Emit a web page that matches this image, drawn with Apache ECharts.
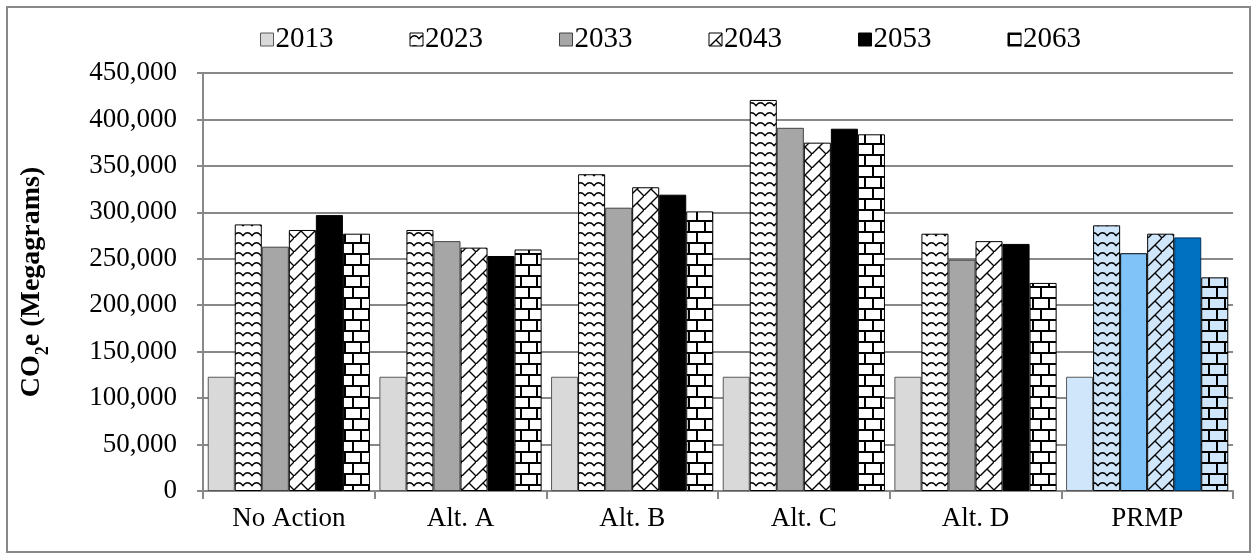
<!DOCTYPE html>
<html>
<head>
<meta charset="utf-8">
<script src="https://cdn.jsdelivr.net/npm/echarts@6/dist/echarts.min.js"></script>
<style>
html,body{margin:0;padding:0;background:#fff;}
#chart{width:1255px;height:555px;}
</style>
</head>
<body>
<div id="chart"></div>
<script>
const categories = ['No Action', 'Alt. A', 'Alt. B', 'Alt. C', 'Alt. D', 'PRMP'];
const seriesNames = ['2013', '2023', '2033', '2043', '2053', '2063'];
const v2013 = [123000, 123000, 123000, 123000, 123000, 123000];
const v2023 = [287000, 281000, 341000, 421000, 277000, 286000];
const v2033 = [263000, 269000, 305000, 391000, 249000, 256000];
const v2043 = [281000, 262000, 327000, 375000, 269000, 277000];
const v2053 = [297000, 253000, 319000, 390000, 266000, 273000];
const v2063 = [277000, 260000, 301000, 384000, 224000, 230000];
const yTicks = [0, 50000, 100000, 150000, 200000, 250000, 300000, 350000, 400000, 450000];

function pattern(bg, w, h, draw) {
  const c = document.createElement('canvas');
  c.width = w; c.height = h;
  const ctx = c.getContext('2d');
  ctx.fillStyle = bg; ctx.fillRect(0, 0, w, h);
  ctx.strokeStyle = '#000';
  draw(ctx, w, h);
  return { image: c, repeat: 'repeat' };
}
function zigzag(bg) {
  return pattern(bg, 9, 10, (ctx) => {
    ctx.lineWidth = 1.5;
    ctx.beginPath();
    ctx.moveTo(-1, 7);
    ctx.quadraticCurveTo(4.5, -1.5, 10, 7);
    ctx.stroke();
  });
}
function diagBrick(bg) {
  return pattern(bg, 14, 14, (ctx) => {
    ctx.lineWidth = 1.4;
    ctx.beginPath();
    ctx.moveTo(-1, 15); ctx.lineTo(15, -1);
    ctx.moveTo(7, 7); ctx.lineTo(15, 15);
    ctx.stroke();
  });
}
function hBrick(bg) {
  return pattern(bg, 16, 22, (ctx) => {
    ctx.lineWidth = 2;
    ctx.beginPath();
    ctx.moveTo(0, 1); ctx.lineTo(16, 1);
    ctx.moveTo(0, 12); ctx.lineTo(16, 12);
    ctx.moveTo(1, 1); ctx.lineTo(1, 12);
    ctx.moveTo(9, 12); ctx.lineTo(9, 22);
    ctx.stroke();
  });
}

const lightBlue = '#cfe6fb';
const styles = [
  { color: '#d9d9d9', borderColor: '#595959', prmp: { color: lightBlue, borderColor: '#595959' } },
  { color: zigzag('#ffffff'), borderColor: '#000', prmp: { color: zigzag(lightBlue), borderColor: '#000' } },
  { color: '#a6a6a6', borderColor: '#404040', prmp: { color: '#7fc3f9', borderColor: '#000' } },
  { color: diagBrick('#ffffff'), borderColor: '#000', prmp: { color: diagBrick(lightBlue), borderColor: '#000' } },
  { color: '#000000', borderColor: '#000', prmp: { color: '#0070c0', borderColor: '#00305a' } },
  { color: hBrick('#ffffff'), borderColor: '#000', prmp: { color: hBrick(lightBlue), borderColor: '#000' } }
];
const values = [v2013, v2023, v2033, v2043, v2053, v2063];

const FONT = 'Liberation Serif';
const series = seriesNames.map((name, i) => ({
  name: name,
  type: 'bar',
  barGap: '0%',
  barCategoryGap: '5.5%',
  itemStyle: { color: styles[i].color, borderColor: styles[i].borderColor, borderWidth: 1 },
  data: values[i].map((v, j) => j === categories.length - 1
    ? { value: v, itemStyle: { color: styles[i].prmp.color, borderColor: styles[i].prmp.borderColor, borderWidth: 1 } }
    : v),
  animation: false
}));

const chart = echarts.init(document.getElementById('chart'));
chart.setOption({
  animation: false,
  backgroundColor: '#fff',
  graphic: [{
    type: 'rect', shape: { x: 7, y: 7, width: 1243, height: 545 },
    style: { fill: 'none', stroke: '#888', lineWidth: 2 }, silent: true
  }],
  legend: {
    top: 20, left: 255,
    itemWidth: 13, itemHeight: 13, itemGap: 76,
    icon: 'rect',
    textStyle: { fontFamily: FONT, fontSize: 29, color: '#000', padding: [0, 0, 0, -3] },
    itemStyle: { borderWidth: 1 },
    data: seriesNames
  },
  grid: { left: 203, right: 22, top: 73, bottom: 64, containLabel: false },
  xAxis: {
    type: 'category',
    data: categories,
    axisLine: { lineStyle: { color: '#888', width: 2 } },
    axisTick: { show: true, alignWithLabel: false, interval: 0, length: 8, lineStyle: { color: '#888', width: 2 } },
    axisLabel: { fontFamily: FONT, fontSize: 27, color: '#000', margin: 14, interval: 0 }
  },
  yAxis: {
    type: 'value',
    min: yTicks[0], max: yTicks[yTicks.length - 1], interval: 50000,
    name: '{a|CO}{s|2}{a|e (Megagrams)}',
    nameLocation: 'middle', nameRotate: 90, nameGap: 157,
    nameTextStyle: {
      rich: {
        a: { fontFamily: FONT, fontSize: 28, fontWeight: 'bold', color: '#000', lineHeight: 32, verticalAlign: 'bottom' },
        s: { fontFamily: FONT, fontSize: 18, fontWeight: 'bold', color: '#000', lineHeight: 32, verticalAlign: 'bottom', padding: [0, 0, -6, 0] }
      }
    },
    axisLine: { show: true, lineStyle: { color: '#888', width: 2 } },
    axisTick: { show: true, length: 6, lineStyle: { color: '#888', width: 2 } },
    axisLabel: {
      fontFamily: FONT, fontSize: 27, color: '#000', margin: 26,
      formatter: (v) => v.toLocaleString('en-US')
    },
    splitLine: { lineStyle: { color: '#888', width: 2 } }
  },
  series: series
});
</script>
</body>
</html>
